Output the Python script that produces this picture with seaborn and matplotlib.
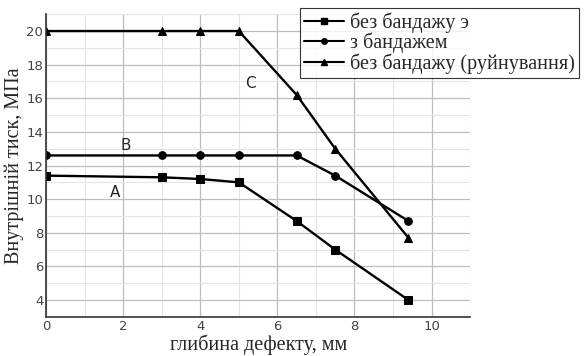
import matplotlib
matplotlib.use("Agg")
import matplotlib.pyplot as plt
import seaborn as sns
import pandas as pd
from matplotlib.ticker import MultipleLocator
from matplotlib.lines import Line2D

depth = [0, 3, 4, 5, 6.5, 7.5, 9.4]
series_a = [11.4, 11.3, 11.2, 11.0, 8.7, 7.0, 4.0]
series_b = [12.6, 12.6, 12.6, 12.6, 12.6, 11.4, 8.7]
series_c = [20.0, 20.0, 20.0, 20.0, 16.2, 13.0, 7.7]
names = ["без бандажу э", "з бандажем", "без бандажу (руйнування)"]
markers = ["s", "o", "^"]

rows = []
for n, ys in zip(names, [series_a, series_b, series_c]):
    for x, y in zip(depth, ys):
        rows.append({"x": x, "y": y, "s": n})
df = pd.DataFrame(rows)

sns.set_style("white")
fig = plt.figure(figsize=(5.84, 3.56), dpi=100)
ax = fig.add_axes([0.079, 0.11, 0.726, 0.85])

ax.xaxis.set_major_locator(MultipleLocator(2))
ax.xaxis.set_minor_locator(MultipleLocator(1))
ax.yaxis.set_major_locator(MultipleLocator(2))
ax.yaxis.set_minor_locator(MultipleLocator(1))
ax.grid(which="major", color="#bdbdbd", lw=0.9)
ax.grid(which="minor", color="#e4e4e4", lw=0.8)
ax.set_axisbelow(True)

sns.lineplot(data=df, x="x", y="y", hue="s", style="s",
             palette=["black"] * 3, markers=markers, dashes=False,
             markersize=5.5, lw=1.7, ax=ax, legend=False,
             markeredgecolor="black")

ax.set_xlim(0, 11)
ax.set_ylim(3, 21)
for sp in ["top", "right"]:
    ax.spines[sp].set_visible(False)
for sp in ["left", "bottom"]:
    ax.spines[sp].set_color("#333333")
    ax.spines[sp].set_linewidth(1.2)
ax.tick_params(axis="both", length=0, labelsize=9.5, colors="#444444", pad=2)
ax.set_xticks([0, 2, 4, 6, 8, 10])
ax.set_yticks([4, 6, 8, 10, 12, 14, 16, 18, 20])

ax.set_xlabel("глибина дефекту, мм", family="Liberation Serif", fontsize=14.5, labelpad=1)
ax.set_ylabel("Внутрішній тиск, МПа", family="Liberation Serif", fontsize=14.5, labelpad=2)

ax.text(5.3, 16.9, "C", fontsize=11, ha="center", va="center")
ax.text(2.07, 13.2, "B", fontsize=11, ha="center", va="center")
ax.text(1.8, 10.4, "A", fontsize=11, ha="center", va="center")

handles = [Line2D([], [], color="black", lw=1.5, marker=m, markersize=4) for m in markers]
leg = fig.legend(handles, names, loc="upper left", bbox_to_anchor=(0.513, 0.977),
                 prop={"family": "Liberation Serif", "size": 14.5},
                 frameon=True, fancybox=False, edgecolor="black",
                 handlelength=2.0, handletextpad=0.3, labelspacing=0.0,
                 borderpad=0.2, borderaxespad=0)
leg.get_frame().set_linewidth(0.8)

fig.savefig("out.png", dpi=100)
